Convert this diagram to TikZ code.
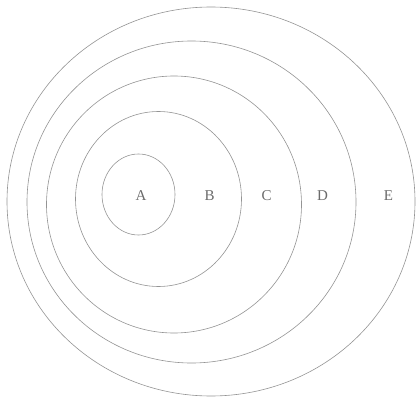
\documentclass[tikz,border=0pt]{standalone}
\usepackage{fontspec}
\setmainfont{Liberation Serif}
\begin{document}
\begin{tikzpicture}[x=1pt,y=-1pt,
  ring/.style={draw=black!42, line width=0.6pt},
  lab/.style={text=black!58, font=\fontsize{15}{15}\selectfont, inner sep=0pt, anchor=center}]
\useasboundingbox (0,0) rectangle (417,398);
\draw[ring] (211,201.5) ellipse [x radius=204, y radius=194.5];
\draw[ring] (191.5,202) ellipse [x radius=164.5, y radius=161];
\draw[ring] (174,204.5) ellipse [x radius=127.5, y radius=128.5];
\draw[ring] (158.5,199) ellipse [x radius=83, y radius=87.5];
\draw[ring] (138.5,194.5) ellipse [x radius=36.5, y radius=40.5];
\node[lab] (a) at (141,195.5) {A};
\node[lab] (b) at (209.5,195.5) {B};
\node[lab] (c) at (266.5,195.5) {C};
\node[lab] (d) at (322.5,195.5) {D};
\node[lab] (e) at (388.5,195.5) {E};
\end{tikzpicture}
\end{document}
